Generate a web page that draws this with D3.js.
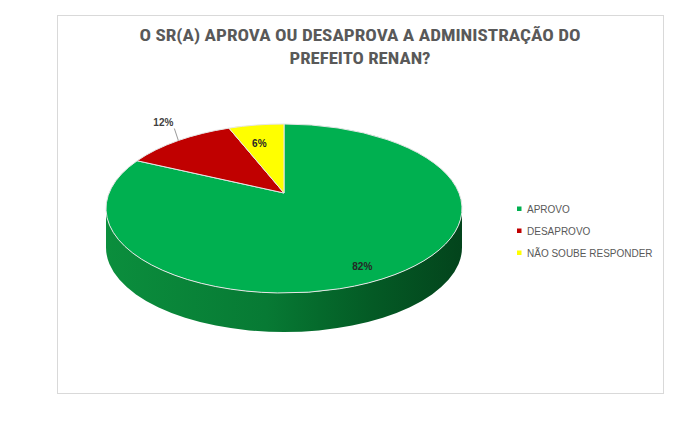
<!DOCTYPE html>
<html>
<head>
<meta charset="utf-8">
<script src="https://cdn.jsdelivr.net/npm/d3@7"></script>
<style>
  body { margin: 0; background: #fff; }
  svg { display: block; }
</style>
</head>
<body>
<svg id="chart" width="685" height="443"></svg>
<script>
// dados do gráfico
const categories = ["APROVO", "DESAPROVO", "NÃO SOUBE RESPONDER"];
const values = [82, 12, 6];
const colors = ["#00b050", "#c00000", "#ffff00"];
const titleLines = ["O SR(A) APROVA OU DESAPROVA A ADMINISTRAÇÃO DO", "PREFEITO RENAN?"];
const outsideLabels = ["DESAPROVO"];

const svg = d3.select("#chart");
const font = "'Liberation Sans Narrow', 'Roboto Condensed', 'Liberation Sans', Arial, sans-serif";
const font2 = "'Liberation Sans', Arial, sans-serif";

// moldura
svg.append("rect")
    .attr("x", 57.5).attr("y", 15.5)
    .attr("width", 606).attr("height", 378)
    .attr("fill", "#fff")
    .attr("stroke", "#d9d9d9");

// título
const titleWidths = [441, 141];
svg.append("g").selectAll("text")
    .data(titleLines)
    .join("text")
    .attr("x", 360)
    .attr("y", (d, i) => 41 + i * 23)
    .attr("text-anchor", "middle")
    .attr("font-family", font)
    .attr("font-weight", "bold")
    .attr("font-size", 16)
    .attr("fill", "#595959")
    .attr("textLength", (d, i) => titleWidths[i])
    .attr("lengthAdjust", "spacingAndGlyphs")
    .text(d => d);

// pizza 3D com perspectiva
// o centro do disco fica acima do centro da elipse (parte de trás encolhe)
const cx = 284, apexY = 193, topY = 124, botY = 293, halfW = 178, depth = 39;
const persp = ((botY - apexY) - (apexY - topY)) / ((botY - apexY) + (apexY - topY));
const B = (apexY - topY) * (1 + persp);
const A = halfW * Math.sqrt(1 - persp * persp);
const ecy = (topY + botY) / 2, rx = halfW, ry = (botY - topY) / 2;

// ponto na borda (projeção do círculo)
function rim(a, dy = 0) {
    const u = Math.sin(a), v = Math.cos(a), w = 1 + persp * v;
    return [cx + A * u / w, apexY - B * v / w + dy];
}
// ponto plano para rótulos
function flat(a, k) {
    return [cx + rx * k * Math.sin(a), ecy - ry * k * Math.cos(a)];
}

const pie = d3.pie().sort(null).value(d => d.value).startAngle(0).endAngle(2 * Math.PI);
const arcs = pie(categories.map((c, i) => ({ name: c, value: values[i], color: colors[i] })));

const defs = svg.append("defs");
const grad = defs.append("linearGradient")
    .attr("id", "sideGrad")
    .attr("gradientUnits", "userSpaceOnUse")
    .attr("x1", cx - rx).attr("x2", cx + rx)
    .attr("y1", 0).attr("y2", 0);
grad.selectAll("stop")
    .data([[0, "#0b8e3d"], [0.45, "#077a34"], [0.6, "#056a2c"], [0.75, "#045a25"], [1, "#03441c"]])
    .join("stop")
    .attr("offset", d => d[0])
    .attr("stop-color", d => d[1]);

const g = svg.append("g");

// laterais (só a parte da frente, entre os extremos da elipse)
const frontA = Math.acos(-persp), frontB = 2 * Math.PI - frontA;
arcs.forEach(d => {
    const s = Math.max(d.startAngle, frontA);
    const e = Math.min(d.endAngle, frontB);
    if (e <= s) return;
    const p0 = rim(s), p1 = rim(e), p2 = rim(e, depth), p3 = rim(s, depth);
    const large = e - s > Math.PI ? 1 : 0;
    const path = `M${p0}A${rx},${ry} 0 ${large} 1 ${p1}L${p2}A${rx},${ry} 0 ${large} 0 ${p3}Z`;
    g.append("path")
        .attr("d", path)
        .attr("fill", d.data.name === "APROVO" ? "url(#sideGrad)" : d3.color(d.data.color).darker(1))
        .attr("stroke", "none");
});

// topo
g.selectAll(".slice")
    .data(arcs)
    .join("path")
    .attr("class", "slice")
    .attr("d", d => {
        const p0 = rim(d.startAngle), p1 = rim(d.endAngle);
        const m = rim((d.startAngle + d.endAngle) / 2);
        // divide em dois arcos para não errar a flag large-arc na projeção
        return `M${cx},${apexY}L${p0}A${rx},${ry} 0 0 1 ${m}A${rx},${ry} 0 0 1 ${p1}Z`;
    })
    .attr("fill", d => d.data.color)
    .attr("stroke", "#e6e6e6")
    .attr("stroke-width", 1)
    .attr("stroke-linejoin", "round");

// rótulos
const labels = svg.append("g")
    .attr("font-family", font2)
    .attr("font-weight", "bold")
    .attr("font-size", 10);

arcs.forEach(d => {
    const mid = (d.startAngle + d.endAngle) / 2;
    const txt = d.data.value + "%";
    if (outsideLabels.includes(d.data.name)) {
        const e = rim(mid);
        labels.append("path")
            .attr("d", `M${e}L${e[0] - 4},${e[1] - 12}`)
            .attr("stroke", "#7f7f7f")
            .attr("stroke-width", 0.8)
            .attr("fill", "none");
        labels.append("text")
            .attr("x", e[0] - 15).attr("y", e[1] - 14)
            .attr("text-anchor", "middle")
            .attr("fill", "#404040")
            .text(txt);
    } else {
        const p = flat(mid, 0.8);
        labels.append("text")
            .attr("x", p[0] + 2).attr("y", p[1] + 1)
            .attr("dy", "0.35em")
            .attr("text-anchor", "middle")
            .attr("fill", "#262626")
            .text(txt);
    }
});

// legenda
const legend = svg.append("g")
    .attr("transform", "translate(517,209)");
const item = legend.selectAll("g")
    .data(categories)
    .join("g")
    .attr("transform", (d, i) => `translate(0,${i * 22})`);
item.append("rect")
    .attr("x", 0).attr("y", -2.5)
    .attr("width", 4.5).attr("height", 4.5)
    .attr("fill", (d, i) => colors[i]);
item.append("text")
    .attr("x", 10).attr("y", 0)
    .attr("dy", "0.35em")
    .attr("font-family", font2)
    .attr("font-size", 10)
    .attr("fill", "#595959")
    .text(d => d);
</script>
</body>
</html>
